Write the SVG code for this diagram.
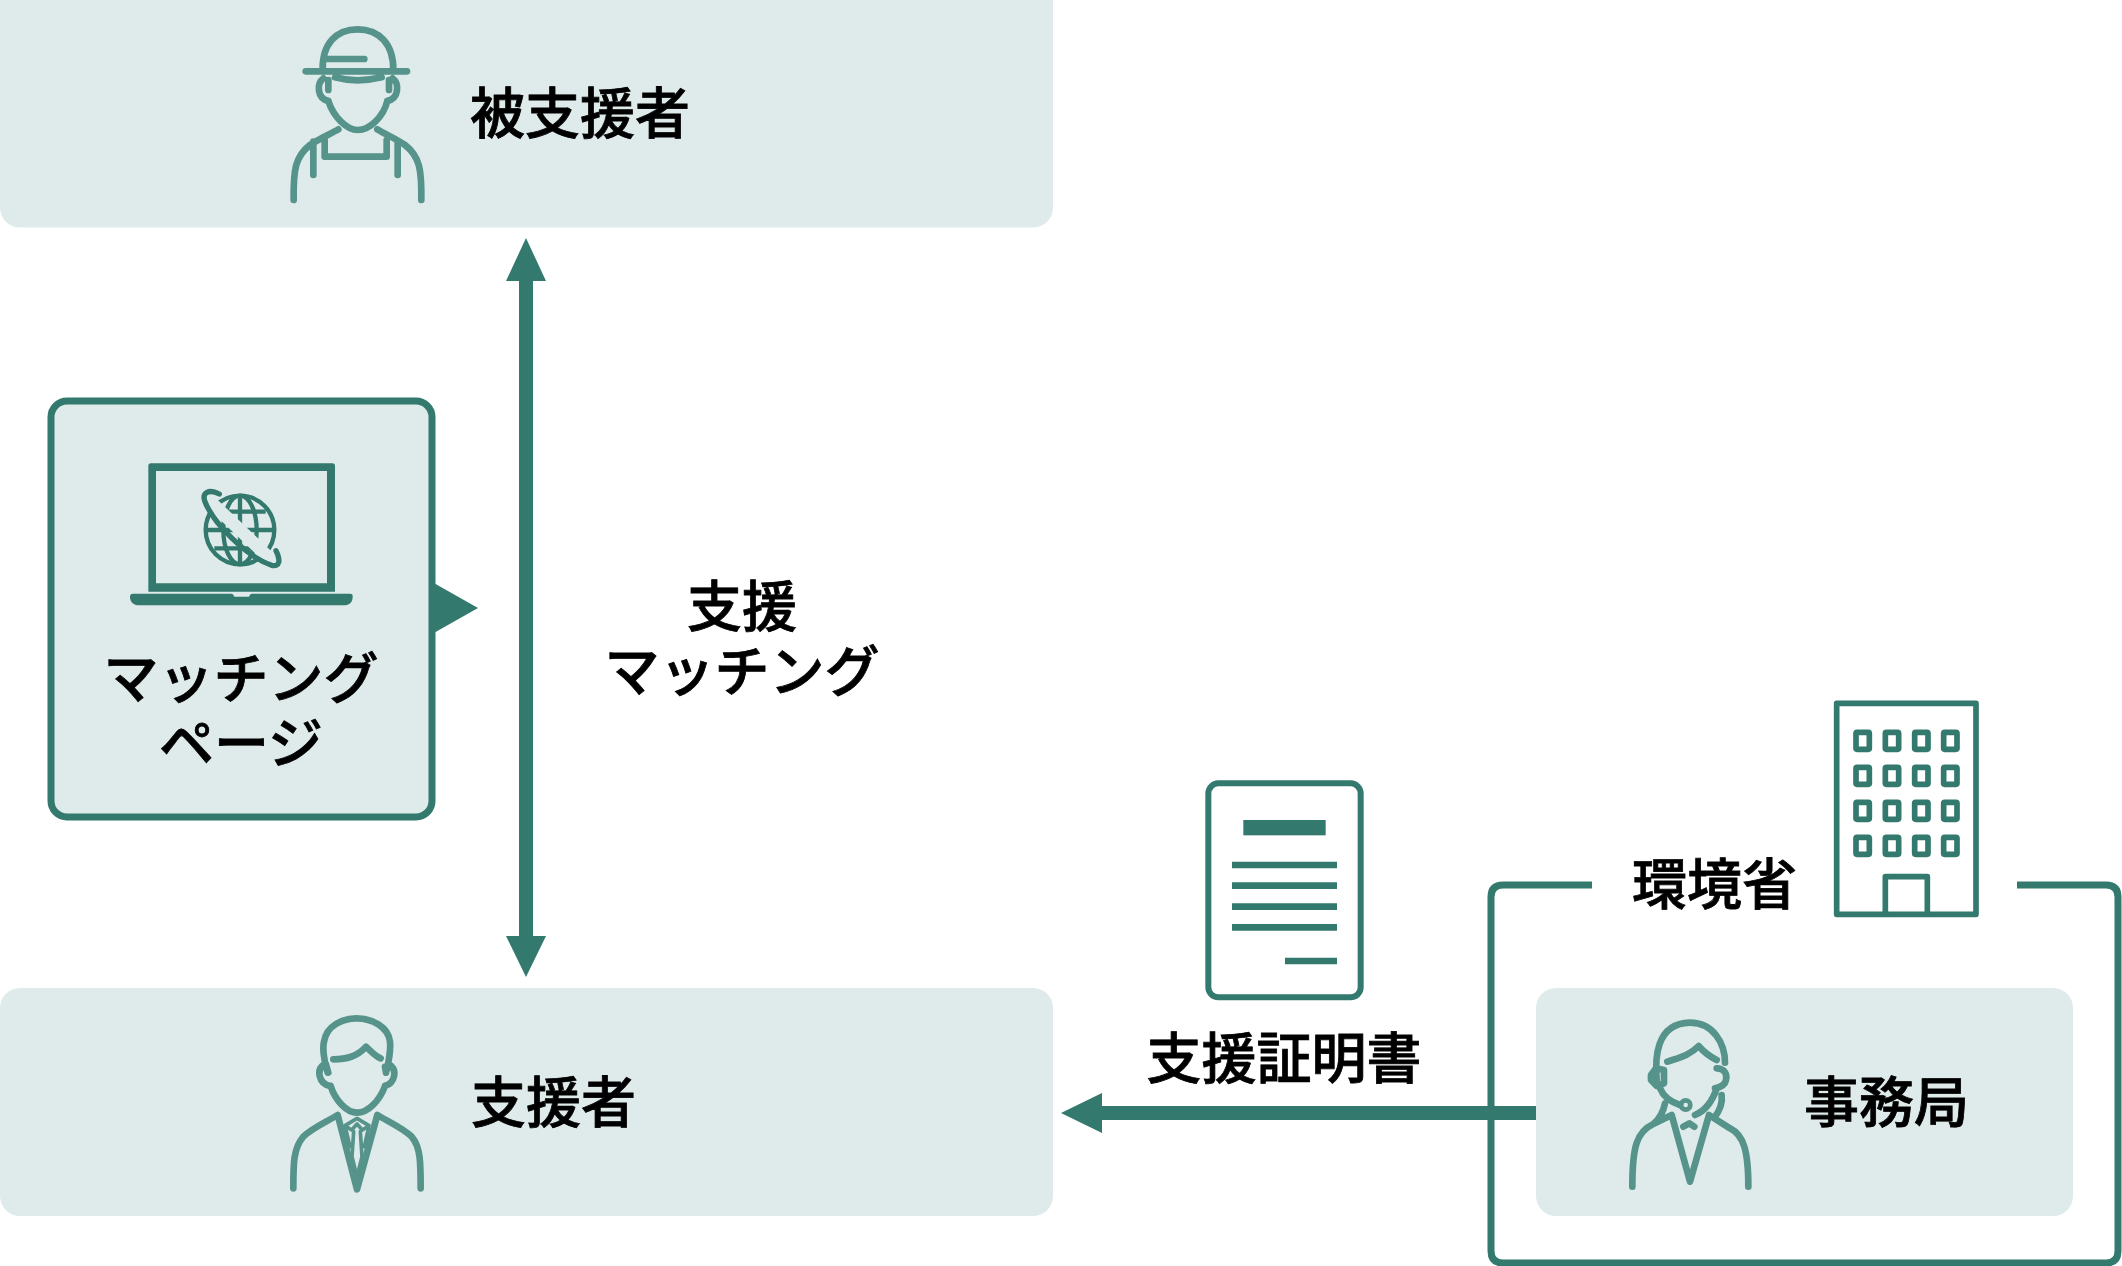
<svg xmlns="http://www.w3.org/2000/svg" width="2122" height="1266" viewBox="0 0 2122 1266">
<style>
.t{font-family:"Noto Sans CJK JP","Noto Sans",sans-serif;font-size:55px;font-weight:500;fill:#000;stroke:#000;stroke-width:.8px}
.m{text-anchor:middle}
.b{fill:#DFEBEA}
.i{fill:none;stroke:#56938A;stroke-width:20;stroke-linecap:round;stroke-linejoin:round}
.d{fill:#33796D}
.o{fill:none;stroke:#33796D}
</style>
<rect width="2122" height="1266" fill="#fff"/>
<g id="recipient">
<rect class="b" x="0" y="-20" width="1053" height="247.500" rx="20"/>
<g transform="translate(260,0) scale(.33333)"><path class="i" d="M188 214C185 130 230 88 293 88C355 88 402 130 400 214M137 214H441M195 177H313M225 232Q290 250 365 232M190 235C170 250 170 295 205 303M205 240V270M398 235C418 250 418 295 382 303M387 240V270M205 303C220 350 260 390 293 390C330 390 370 350 382 303M101 600C100 510 105 470 150 435C170 420 210 402 235 388M484 600C485 510 480 470 435 435C415 420 375 402 352 388M194 420V470H380V420M160 525V425M413 525V425"/></g>
<text class="t" x="470" y="133">被支援者</text>
</g>
<g id="supporter">
<rect class="b" x="0" y="988" width="1053" height="228" rx="20"/>
<g transform="translate(260,1000) scale(.33333)"><path class="i" d="M203 218C190 180 188 140 192 125C200 75 250 55 290 55C335 55 385 80 390 125C392 150 388 180 378 218M220 178C260 178 290 170 318 140C335 155 345 168 362 175M190 195C170 210 175 250 210 258M390 195C412 210 405 250 375 258M197 190L205 218M375 200L378 218M212 258C225 300 260 338 291 338C325 338 360 300 375 258M100 565C100 490 100 445 130 410C155 385 200 365 233 345L291 568L352 345C385 365 430 385 455 410C482 440 482 490 482 565"/><path class="i" style="stroke-width:11" d="M255 377L291 355L327 377L307 390L291 372L275 390ZM281 395L276 470L291 530L306 470L301 395M255 377L270 440M327 377L313 440"/></g>
<text class="t" x="471" y="1122">支援者</text>
</g>
<g id="matching-page">
<rect class="b" x="51" y="401" width="381" height="416" rx="16" stroke="#33796D" stroke-width="7"/>
<path class="d" d="M432 582L478 608L432 634Z"/>
<g transform="translate(120,440) scale(.33333)">
<path class="d" d="M85 78Q85 70 93 70H637Q645 70 645 78V455H85ZM108 93V430H621V93ZM30 470Q30 461 39 461H335Q340 461 343 470H387Q390 461 395 461H690Q699 461 698 470C698 485 690 496 670 496H58C40 496 30 485 30 470Z" fill-rule="evenodd"/>
<g fill="none" stroke="#33796D" stroke-width="13">
<circle cx="360" cy="270" r="103"/><ellipse cx="360" cy="270" rx="50" ry="103"/><path d="M360 167V373M257 270H463M283 215H437M283 325H437"/>
<path d="M250 165L470 375" stroke="#DFEBEA" stroke-width="38"/>
<path stroke-linecap="round" stroke-width="16" d="M298 162C265 145 245 160 255 185C280 250 380 350 455 376C480 382 482 360 468 332"/>
</g></g>
<text class="t m" x="241" y="698">マッチング</text>
<text class="t m" x="241" y="763">ページ</text>
</g>
<g id="label-matching">
<text class="t m" x="742" y="626">支援</text>
<text class="t m" x="742" y="691">マッチング</text>
</g>
<g id="certificate">
<g transform="translate(1180,770) scale(.33333)">
<rect class="o" x="85" y="40" width="457" height="642" rx="30" stroke-width="18" fill="#fff"/>
<rect class="d" x="190" y="150" width="247" height="46"/>
<path class="d" d="M156 275H471V295H156ZM156 337H471V357H156ZM156 400H471V420H156ZM156 462H471V482H156ZM315 563H471V583H315Z"/>
</g>
<text class="t m" x="1284" y="1078">支援証明書</text>
</g>
<g id="ministry">
<path class="o" stroke-width="7" d="M1592 885H1503Q1491 885 1491 897V1251Q1491 1263 1503 1263H2106Q2118 1263 2118 1251V897Q2118 885 2106 885H2017"/>
<text class="t" x="1632" y="904">環境省</text>
<g transform="translate(1810,690) scale(.33333)" class="o" stroke-width="17" stroke-linejoin="round">
<rect x="80" y="40" width="418" height="633"/>
<path d="M226 673V560H352V673"/>
<g id="w"><rect x="138" y="127" width="40" height="51" rx="3"/><rect x="226" y="127" width="40" height="51" rx="3"/><rect x="314" y="127" width="40" height="51" rx="3"/><rect x="401" y="127" width="40" height="51" rx="3"/></g>
<use href="#w" y="105"/><use href="#w" y="210"/><use href="#w" y="315"/>
</g>
</g>
<g id="secretariat">
<rect class="b" x="1536" y="988" width="537" height="228" rx="20"/>
<g transform="translate(1600,1000) scale(.33333)"><path class="i" d="M170 240C165 180 165 70 270 68C340 68 375 130 375 188M202 185C240 172 270 165 296 138C315 160 330 170 350 180M168 205L153 225V240L170 258L192 250V210ZM350 205C375 205 382 225 378 240C375 255 360 262 345 265M180 265C190 290 210 305 240 315M285 345C320 330 340 295 350 265M195 310C190 335 180 355 160 372C110 395 97 440 97 560M365 285C368 310 360 330 345 350M160 372L215 345L270 545L327 345L390 385C430 405 445 450 445 560M250 380L268 370L283 380"/><circle class="i" cx="257" cy="315" r="14" style="stroke-width:14"/></g>
<text class="t" x="1804" y="1122">事務局</text>
</g>
<g id="connectors">
<path class="d" d="M526 238L546 281H533V936H546L526 977L506 936H519V281H506Z"/>
<path class="d" d="M1061 1113L1102 1093V1106H1536V1120H1102V1133Z"/>
</g>
</svg>
